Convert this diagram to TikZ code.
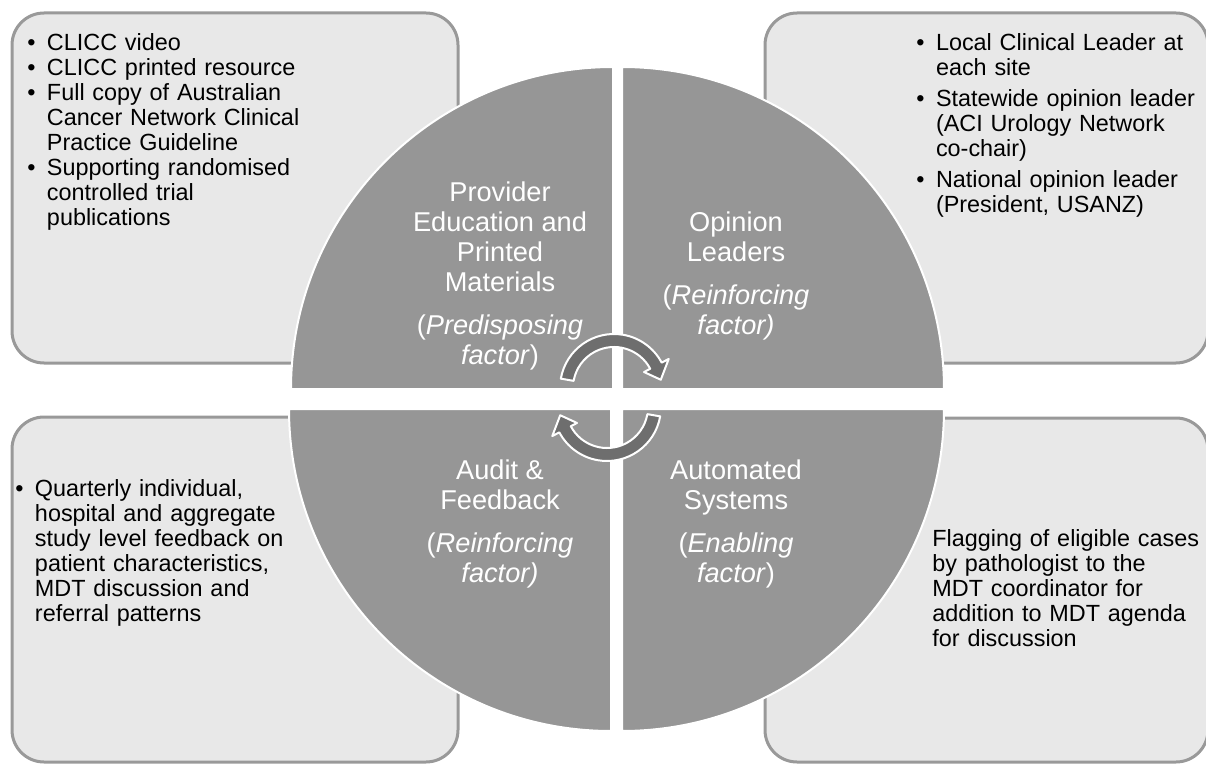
\documentclass[tikz,border=0pt]{standalone}
\usepackage{fontspec}
\setmainfont{Liberation Sans}
\usetikzlibrary{positioning}

\definecolor{panelfill}{HTML}{E8E8E8}
\definecolor{panelline}{HTML}{999999}
\definecolor{slicefill}{HTML}{969696}
\definecolor{arrowfill}{HTML}{6E6E6E}

% bullet list used inside the side panels
\newenvironment{pointlist}[1][0pt]{%
  \begin{list}{\textbullet}{\setlength{\leftmargin}{9.8pt}\setlength{\labelwidth}{4.1pt}%
    \setlength{\labelsep}{5.7pt}\setlength{\itemsep}{#1}\setlength{\parsep}{0pt}%
    \setlength{\topsep}{0pt}\setlength{\partopsep}{0pt}}}{\end{list}}

\tikzset{
  panel/.style={fill=panelfill,draw=panelline,line width=1.5pt,rounded corners=16pt},
  slice/.style={fill=slicefill,draw=white,line width=1pt},
  cycarrow/.style={fill=arrowfill,draw=white,line width=1pt,line join=round},
  slicetext/.style={white,align=center,inner sep=0pt,font=\fontsize{13.6}{15}\selectfont},
  paneltext/.style={text width=#1,align=left,inner sep=0pt,anchor=north west,
    font=\fontsize{11.7}{12.5}\selectfont},
}

\begin{document}
\begin{tikzpicture}[x=0.5pt,y=-0.5pt]
\useasboundingbox (0,0) rectangle (1206,765);

% side panels
\draw[panel] (12,13) rectangle (458,363);
\draw[panel] (765,13) rectangle (1208,363);
\draw[panel] (12,417) rectangle (458,762);
\draw[panel] (765,418) rectangle (1208,762);

% the four quarters
\draw[slice] (613,389) -- ++(-322,0) arc[start angle=180,end angle=270,radius=322] -- cycle;
\draw[slice] (622,389) -- ++(0,-322) arc[start angle=270,end angle=360,radius=322] -- cycle;
\draw[slice] (611,409) -- ++(-322,0) arc[start angle=180,end angle=90,radius=322] -- cycle;
\draw[slice] (622,409) -- ++(322,0) arc[start angle=0,end angle=90,radius=322] -- cycle;

% cycle arrows in the middle
\begin{scope}[shift={(614,388)}]
  \draw[cycarrow] (190:54) arc[start angle=190,end angle=332,radius=54] -- (332:62)
    -- (350:47.5) -- (332:34) -- (332:41) arc[start angle=332,end angle=190,radius=41] -- cycle;
\end{scope}
\begin{scope}[shift={(607,407)}]
  \draw[cycarrow] (10:54) arc[start angle=10,end angle=152,radius=54] -- (152:62)
    -- (170:47.5) -- (152:34) -- (152:41) arc[start angle=152,end angle=10,radius=41] -- cycle;
\end{scope}

% quarter labels
\node[slicetext] (education) at (500,276) {Provider\\Education and\\Printed\\Materials\\[6.5pt]
  (\textit{Predisposing}\\\textit{factor})};
\node[slicetext] (leaders) at (736,276) {Opinion\\Leaders\\[6.5pt](\textit{Reinforcing}\\\textit{factor)}};
\node[slicetext] (audit) at (500,524) {Audit \&\\Feedback\\[6.5pt](\textit{Reinforcing}\\\textit{factor)}};
\node[slicetext] (systems) at (736,524) {Automated\\Systems\\[6.5pt](\textit{Enabling}\\\textit{factor})};

% panel texts
\node[paneltext=210pt] (materials) at (27,25) {\begin{pointlist}
  \item CLICC video
  \item CLICC printed resource
  \item Full copy of Australian\newline Cancer Network Clinical\newline Practice Guideline
  \item Supporting randomised\newline controlled trial\newline publications
\end{pointlist}};
\node[paneltext=145pt] (leaderlist) at (916,25) {\begin{pointlist}[3pt]
  \item Local Clinical Leader at\newline each site
  \item Statewide opinion leader\newline (ACI Urology Network\newline co-chair)
  \item National opinion leader\newline (President, USANZ)
\end{pointlist}};
\node[paneltext=210pt] (feedback) at (15,471) {\begin{pointlist}
  \item Quarterly individual,\newline hospital and aggregate\newline study level feedback on\newline
    patient characteristics,\newline MDT discussion and\newline referral patterns
\end{pointlist}};
\node[paneltext=140pt] (flagging) at (932,529) {Flagging of eligible cases\\by pathologist to the\\
  MDT coordinator for\\addition to MDT agenda\\for discussion};
\end{tikzpicture}
\end{document}
